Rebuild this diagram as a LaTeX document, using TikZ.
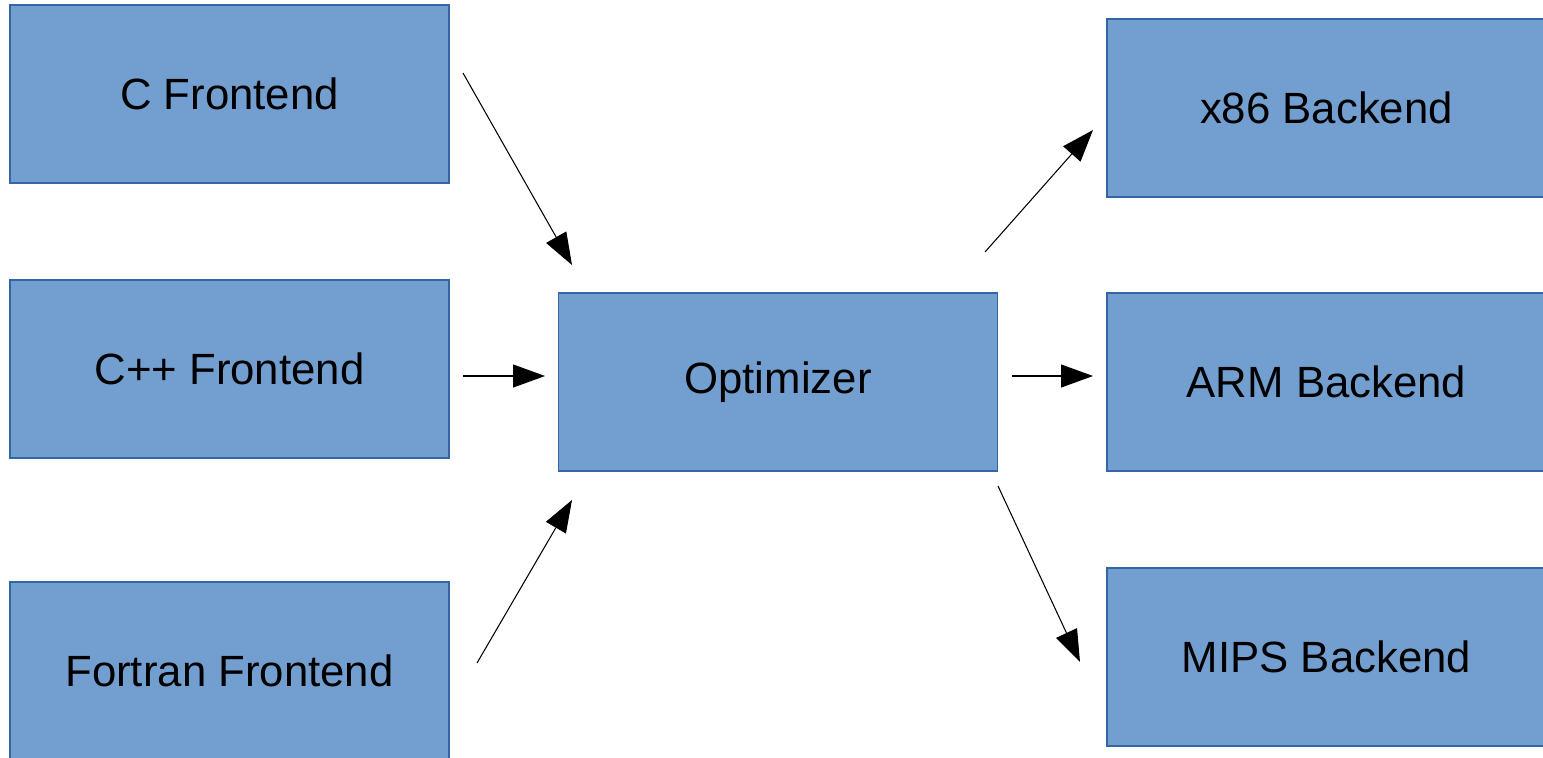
\documentclass[tikz,border=0pt]{standalone}
\usepackage{fontspec}
\setmainfont{Liberation Sans}
\usepackage{tikz}
\usetikzlibrary{arrows.meta}

\definecolor{boxfill}{HTML}{729FCF}
\definecolor{boxline}{HTML}{3465A4}

\tikzset{
  stage/.style={draw=boxline,fill=boxfill,line width=0.6pt,minimum width=8.78cm,minimum height=3.56cm,inner sep=0pt,font=\fontsize{24.9}{29}\selectfont},
  flow/.style={line width=0.6pt,-{Triangle[length=0.64cm,width=0.46cm]}}
}

\begin{document}
\begin{tikzpicture}
\useasboundingbox (0,0) rectangle (30.86,-15.14);
\clip (0,0) rectangle (30.86,-15.14);

\node[name=C-Frontend,stage] at (4.59,-1.88) {C Frontend};
\node[name=Cpp-Frontend,stage] at (4.59,-7.38) {C++ Frontend};
\node[name=Fortran-Frontend,stage] at (4.59,-13.42) {Fortran Frontend};
\node[name=Optimizer,stage] at (15.56,-7.64) {Optimizer};
\node[name=x86-Backend,stage] at (26.53,-2.16) {x86 Backend};
\node[name=ARM-Backend,stage] at (26.53,-7.64) {ARM Backend};
\node[name=MIPS-Backend,stage] at (26.53,-13.14) {MIPS Backend};

\coordinate (C-out) at (9.26,-1.46);
\coordinate (C-in) at (11.44,-5.30);
\coordinate (Cpp-out) at (9.26,-7.52);
\coordinate (Cpp-in) at (10.90,-7.52);
\coordinate (Fortran-out) at (9.54,-13.26);
\coordinate (Fortran-in) at (11.44,-10.00);
\coordinate (x86-out) at (19.70,-5.04);
\coordinate (x86-in) at (21.86,-2.60);
\coordinate (ARM-out) at (20.24,-7.52);
\coordinate (ARM-in) at (21.86,-7.52);
\coordinate (MIPS-out) at (19.96,-9.72);
\coordinate (MIPS-in) at (21.60,-13.24);

\draw[flow] (C-out) -- (C-in);
\draw[flow] (Cpp-out) -- (Cpp-in);
\draw[flow] (Fortran-out) -- (Fortran-in);
\draw[flow] (x86-out) -- (x86-in);
\draw[flow] (ARM-out) -- (ARM-in);
\draw[flow] (MIPS-out) -- (MIPS-in);
\end{tikzpicture}
\end{document}
